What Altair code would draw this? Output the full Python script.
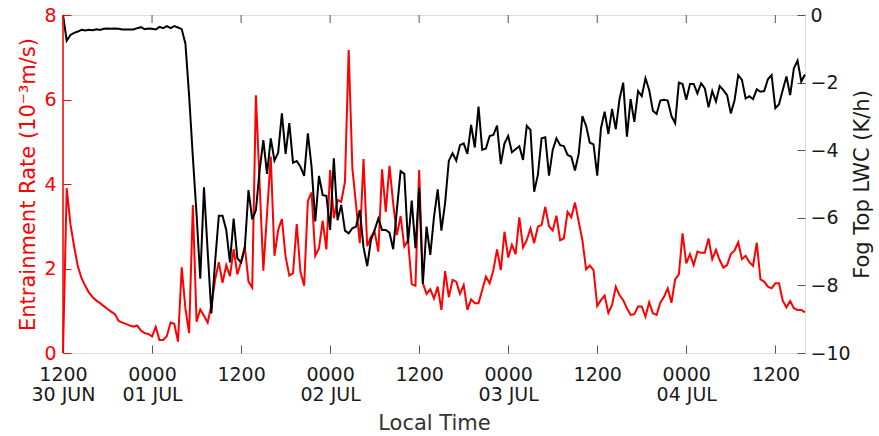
import altair as alt
import pandas as pd

# Entrainment rate (10^-3 m/s), half-hourly from 1200 30 JUN
entrainment = [
    0.0, 3.9, 3.05, 2.52, 2.05, 1.77, 1.59, 1.43, 1.32, 1.24,
    1.18, 1.11, 1.04, 0.98, 0.92, 0.76, 0.72, 0.69, 0.65, 0.62,
    0.65, 0.53, 0.47, 0.45, 0.39, 0.62, 0.31, 0.31, 0.40, 0.72,
    0.69, 0.27, 2.03, 1.05, 0.47, 3.5, 0.74, 1.03, 0.88, 0.72,
    1.14, 1.73, 2.15, 1.66, 2.08, 1.82, 2.46, 1.86, 2.16, 2.52,
    1.69, 1.55, 6.1, 4.0, 1.95, 3.3, 4.65, 2.3, 2.91, 3.17,
    2.28, 1.83, 1.89, 3.05, 1.92, 1.59, 3.6, 3.8, 2.3, 2.48,
    3.13, 2.45, 4.33, 3.19, 3.62, 3.58, 4.05, 7.17, 4.37, 3.5,
    2.6, 4.59, 2.53, 2.75, 2.87, 2.4, 4.35, 3.34, 4.43, 3.54,
    2.79, 3.24, 2.52, 2.67, 1.63, 1.59, 4.33, 1.65, 1.40, 1.51,
    1.29, 1.57, 1.02, 1.94, 1.32, 1.73, 1.69, 1.40, 1.61, 1.02,
    1.27, 1.18, 1.18, 1.49, 1.81, 1.65, 1.96, 2.45, 1.96, 2.87,
    2.26, 2.56, 2.34, 3.21, 2.5, 2.67, 2.95, 2.6, 2.99, 3.03,
    3.46, 3.0, 2.9, 3.25, 2.67, 2.71, 3.34, 3.21, 3.56, 3.11,
    2.67, 1.98, 2.07, 1.96, 1.11, 1.25, 1.36, 0.95, 1.14, 1.57,
    1.37, 1.25, 1.06, 0.9, 0.92, 1.1, 1.1, 0.86, 1.2, 0.94,
    0.9, 1.19, 1.33, 1.53, 1.19, 1.74, 1.86, 2.83, 2.12, 2.34,
    2.08, 2.4, 2.37, 2.37, 2.71, 2.22, 2.44, 2.2, 2.02, 2.08,
    2.34, 2.42, 2.62, 2.22, 2.3, 2.15, 2.06, 2.61, 1.74, 1.69,
    1.57, 1.53, 1.65, 1.65, 1.24, 1.08, 1.23, 1.06, 1.02, 1.02,
    0.96,
]

# Fog top LWC tendency (K/h), same times
fog_lwc = [
    0.0, -0.76, -0.59, -0.53, -0.49, -0.44, -0.46, -0.44, -0.45, -0.42,
    -0.44, -0.41, -0.40, -0.41, -0.40, -0.41, -0.43, -0.43, -0.43, -0.43,
    -0.39, -0.36, -0.42, -0.40, -0.41, -0.43, -0.35, -0.39, -0.33, -0.39,
    -0.33, -0.37, -0.42, -0.85, -2.4, -4.2, -5.9, -7.8, -5.1, -7.0,
    -8.83, -7.3, -5.94, -5.94, -6.36, -7.32, -6.02, -7.2, -7.32, -6.9,
    -5.18, -6.05, -5.77, -4.59, -3.7, -4.7, -3.65, -4.31, -4.07, -2.91,
    -4.11, -3.2, -4.37, -4.32, -4.49, -4.76, -3.5, -4.49, -6.11, -4.76,
    -5.33, -5.35, -6.36, -4.24, -6.07, -5.62, -6.38, -6.46, -6.31, -6.26,
    -5.77, -6.87, -7.43, -6.66, -6.36, -6.02, -6.36, -6.36, -6.44, -6.93,
    -5.75, -4.62, -4.70, -6.75, -5.49, -6.9, -5.11, -7.96, -6.26, -7.1,
    -5.97, -5.16, -6.38, -5.55, -4.31, -4.09, -4.31, -3.85, -3.8, -4.11,
    -3.25, -3.92, -2.71, -3.99, -3.95, -3.58, -3.55, -3.27, -4.41, -3.8,
    -3.58, -4.06, -3.97, -3.88, -4.29, -3.28, -3.4, -5.23, -4.73, -3.65,
    -3.62, -4.75, -3.99, -3.65, -3.85, -3.88, -4.14, -4.19, -4.6, -4.11,
    -2.99, -3.28, -3.78, -3.83, -4.75, -3.35, -2.86, -3.52, -2.78, -3.38,
    -2.49, -2.0, -3.6, -2.49, -3.16, -2.25, -2.4, -1.87, -2.22, -2.83,
    -2.93, -2.53, -2.51, -2.53, -2.99, -3.2, -2.0, -2.04, -2.51, -2.04,
    -2.04, -2.32, -2.02, -2.17, -2.73, -2.25, -2.56, -2.1, -2.22, -2.37,
    -2.91, -2.53, -1.78, -1.92, -2.47, -2.4, -2.49, -2.2, -2.27, -2.25,
    -1.9, -1.78, -2.76, -2.64, -2.22, -1.82, -2.37, -1.58, -1.35, -1.97,
    -1.76,
]

# hours since 1200 30 JUN (half-hourly sampling)
hours = [i * 0.5 for i in range(len(entrainment))]

tick_hours = [0, 12, 24, 36, 48, 60, 72, 84, 96]
tick_labels = [["1200", "30 JUN"], ["0000", "01 JUL"], ["1200"], ["0000", "02 JUL"],
               ["1200"], ["0000", "03 JUL"], ["1200"], ["0000", "04 JUL"], ["1200"]]
left_ticks = [0, 2, 4, 6, 8]
right_ticks = [-10, -8, -6, -4, -2, 0]

W, H = 742, 338
RED = "#ff0000"
FONT = "DejaVu Sans"
TXT = "#1a1a1a"

df = pd.DataFrame({"hours": hours, "er": entrainment, "lwc": fog_lwc})
ticks_df = pd.DataFrame({"hours": tick_hours})

label_js = "[" + ",".join("[" + ",".join("'%s'" % s for s in lab) + "]" for lab in tick_labels) + "]"

x_axis = alt.Axis(
    values=tick_hours, labelExpr=label_js + "[round(datum.value/12)]",
    orient="bottom", offset=-8, tickSize=8, domain=False, grid=False,
    tickColor="#555555", labelColor=TXT, labelFont=FONT, labelFontSize=19,
    labelPadding=12, labelLineHeight=20, labelFlush=False,
    title="Local Time", titleFont=FONT, titleFontSize=21, titleFontWeight="normal",
    titleColor="#333333", titlePadding=8,
)
x_enc = alt.X("hours:Q", scale=alt.Scale(domain=[0, 100], nice=False, zero=False), axis=x_axis)

red_line = alt.Chart(df).mark_line(color=RED, strokeWidth=2).encode(
    x=x_enc,
    y=alt.Y("er:Q", scale=alt.Scale(domain=[0, 8], nice=False),
            axis=alt.Axis(values=left_ticks, orient="left", offset=-8, tickSize=8,
                          domain=False, grid=False, tickColor=RED, labelColor=RED,
                          labelFont=FONT, labelFontSize=19, labelPadding=7,
                          title="Entrainment Rate (10⁻³m/s)", titleColor=RED,
                          titleFont=FONT, titleFontSize=21, titleFontWeight="normal",
                          titlePadding=5)),
)

black_line = alt.Chart(df).mark_line(color="#000000", strokeWidth=2).encode(
    x=x_enc,
    y=alt.Y("lwc:Q", scale=alt.Scale(domain=[-10, 0], nice=False),
            axis=alt.Axis(values=right_ticks, orient="right", offset=-8, tickSize=8,
                          domain=False, grid=False, tickColor="#555555", labelColor=TXT,
                          labelFont=FONT, labelFontSize=19, labelPadding=5,
                          title="Fog Top LWC (K/h)", titleColor=TXT, titleAngle=270,
                          titleFont=FONT, titleFontSize=21, titleFontWeight="normal",
                          titlePadding=22)),
)

top_ticks = alt.Chart(ticks_df).mark_rule(color="#555555", strokeWidth=1).encode(
    x=x_enc, y=alt.value(0), y2=alt.value(8),
)

left_edge = alt.Chart(pd.DataFrame({"a": [0]})).mark_rule(color=RED, strokeWidth=1.5).encode(
    x=alt.value(0), y=alt.value(0), y2=alt.value(H),
)

chart = alt.layer(red_line, black_line, top_ticks, left_edge).resolve_scale(
    y="independent"
).properties(
    width=W, height=H,
    autosize=alt.AutoSizeParams(type="none"),
    padding={"left": 63, "top": 15, "right": 74, "bottom": 83},
).configure_view(stroke="#555555", strokeWidth=1).configure(background="white")

chart.save("out.html", embed_options={"renderer": "svg", "actions": False})
